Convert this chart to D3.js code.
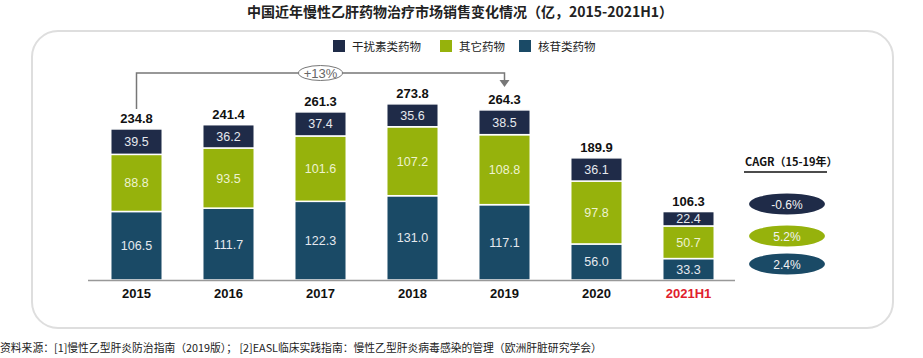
<!DOCTYPE html>
<html><head><meta charset="utf-8">
<script src="https://cdn.jsdelivr.net/npm/d3@7"></script>
<style>body{margin:0;background:#fff;}svg{display:block;font-family:"Liberation Sans",Arial,sans-serif;}</style>
</head><body>
<svg id="c" width="923" height="358"></svg>
<script>
const categories = ["2015","2016","2017","2018","2019","2020","2021H1"];
const nucleoside = [106.5,111.7,122.3,131.0,117.1,56.0,33.3];
const other = [88.8,93.5,101.6,107.2,108.8,97.8,50.7];
const interferon = [39.5,36.2,37.4,35.6,38.5,36.1,22.4];
const totals = [234.8,241.4,261.3,273.8,264.3,189.9,106.3];
const seriesNames = ["干扰素类药物","其它药物","核苷类药物"];
const cagrLabels = ["-0.6%","5.2%","2.4%"];
const growthLabel = "+13%";

const colors = {"核苷类药物":"#1a4a66","其它药物":"#96b20c","干扰素类药物":"#1f2b48"};
const svg = d3.select("#c");

// rounded panel
svg.append("rect").attr("x",32).attr("y",31).attr("width",861).attr("height",297)
  .attr("rx",26).attr("fill","none").attr("stroke","#dedede").attr("stroke-width",2);

// title
svg.append("text").attr("x",460).attr("y",17).attr("text-anchor","middle")
  .attr("font-family","'Noto Sans CJK SC',sans-serif").attr("font-weight","bold").attr("font-size",14)
  .attr("fill","#222").text("中国近年慢性乙肝药物治疗市场销售变化情况（亿，2015-2021H1）");

const x = d3.scaleBand().domain(categories).range([90.5,734.5]).paddingInner(0.44).paddingOuter(0.22);
const y = d3.scaleLinear().domain([0,300]).range([280,87]);

const rows = categories.map((c,i)=>({cat:c,"核苷类药物":nucleoside[i],"其它药物":other[i],"干扰素类药物":interferon[i]}));
const stack = d3.stack().keys(["核苷类药物","其它药物","干扰素类药物"])(rows);

const g = svg.append("g");
stack.forEach(layer=>{
  const k = layer.key;
  g.selectAll(null).data(layer).enter().append("rect")
    .attr("x",d=>x(d.data.cat)).attr("width",x.bandwidth())
    .attr("y",d=>y(d[1])).attr("height",d=>y(d[0])-y(d[1]))
    .attr("fill",colors[k]).attr("stroke","#fff").attr("stroke-width",1.5);
  g.selectAll(null).data(layer).enter().append("text")
    .attr("x",d=>x(d.data.cat)+x.bandwidth()/2).attr("y",d=>(y(d[0])+y(d[1]))/2+4.5)
    .attr("text-anchor","middle").attr("font-size",12.5)
    .attr("fill",k==="其它药物"?"#eef3d0":"#e6e9ee")
    .text(d=>d.data[k].toFixed(1));
});

// totals
g.selectAll(null).data(categories).enter().append("text")
  .attr("x",c=>x(c)+x.bandwidth()/2).attr("y",(c,i)=>y(totals[i])-6)
  .attr("text-anchor","middle").attr("font-weight","bold").attr("font-size",13).attr("fill","#111")
  .text((c,i)=>totals[i].toFixed(1));

// x axis
const xAxis = d3.axisBottom(x).tickSize(0).tickPadding(9);
const ax = svg.append("g").attr("transform","translate(0,280)").call(xAxis);
ax.select(".domain").attr("stroke","#999").attr("stroke-width",1.5).attr("d","M88,0.5H735");
ax.selectAll(".tick text").attr("font-size",13).attr("font-weight","bold")
  .attr("font-family","'Liberation Sans',Arial,sans-serif")
  .attr("fill",d=>d==="2021H1"?"#e0202c":"#111");

// growth bracket
const x0 = x("2015")+x.bandwidth()/2, x1 = x("2019")+x.bandwidth()/2;
const by = 73;
svg.append("path").attr("d",`M${x0},${y(totals[0])-20}V${by}H${x1}V${by+8}`)
  .attr("fill","none").attr("stroke","#777").attr("stroke-width",1.5);
svg.append("path").attr("d",`M${x1-5},${by+7}L${x1+5},${by+7}L${x1},${by+14}Z`)
  .attr("fill","#777");
const ex = x("2017")+x.bandwidth()/2;
svg.append("ellipse").attr("cx",ex).attr("cy",by).attr("rx",22).attr("ry",7.5)
  .attr("fill","#fff").attr("stroke","#777").attr("stroke-width",1);
svg.append("text").attr("x",ex).attr("y",by+4.5).attr("text-anchor","middle").attr("font-size",13)
  .attr("fill","#666").text(growthLabel);

// legend
const legX = [333,440,519];
seriesNames.forEach((n,i)=>{
  svg.append("rect").attr("x",legX[i]).attr("y",40).attr("width",12).attr("height",12).attr("fill",colors[n]);
  svg.append("text").attr("x",legX[i]+19).attr("y",50.5).attr("font-size",11.5)
    .attr("font-family","'Noto Sans CJK SC',sans-serif").attr("fill","#222").text(n);
});

// CAGR
svg.append("text").attr("x",745).attr("y",166).attr("font-size",11).attr("font-weight","bold")
  .attr("font-family","'Noto Sans CJK SC',sans-serif").attr("fill","#111").text("CAGR（15-19年）");
svg.append("line").attr("x1",744).attr("x2",827).attr("y1",172).attr("y2",172).attr("stroke","#111").attr("stroke-width",1.5);
const cy = [204,236,264];
seriesNames.forEach((n,i)=>{
  svg.append("ellipse").attr("cx",787).attr("cy",cy[i]).attr("rx",38).attr("ry",10.5).attr("fill",colors[n]);
  svg.append("text").attr("x",787).attr("y",cy[i]+4.5).attr("text-anchor","middle").attr("font-size",12)
    .attr("fill","#f2f2f2").text(cagrLabels[i]);
});

// source
svg.append("text").attr("x",0).attr("y",352).attr("font-size",10.8)
  .attr("font-family","'Noto Sans CJK SC',sans-serif").attr("fill","#222")
  .text("资料来源：[1]慢性乙型肝炎防治指南（2019版）；  [2]EASL临床实践指南：慢性乙型肝炎病毒感染的管理（欧洲肝脏研究学会）");
</script>
</body></html>
